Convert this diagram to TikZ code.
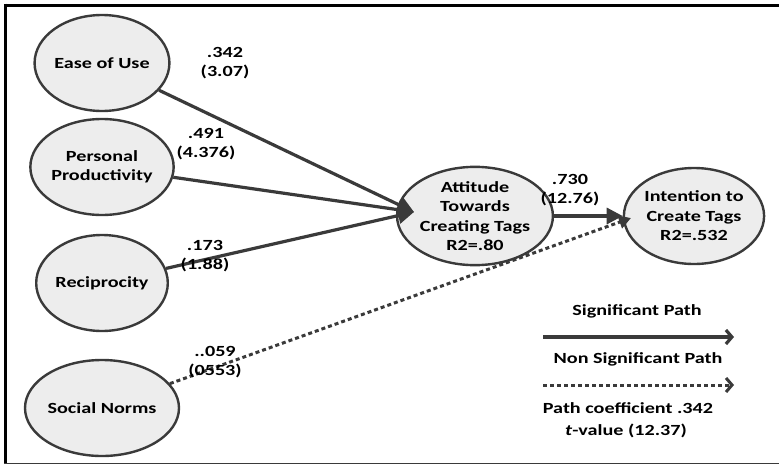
\documentclass[tikz,border=0pt]{standalone}
\usepackage{fontspec}
\setmainfont{Carlito}[FakeStretch=1.3]
\usetikzlibrary{arrows.meta,shapes.geometric}
\definecolor{edgegray}{HTML}{3A3A3A}
\definecolor{fillgray}{HTML}{EDEDED}
\tikzset{
  construct/.style={ellipse, draw=edgegray, line width=2.4pt, fill=fillgray,
    minimum width=125pt, minimum height=96pt, inner sep=0pt, align=center,
    font=\bfseries\fontsize{15.5}{19.5}\selectfont},
  lbl/.style={align=center, font=\bfseries\fontsize{15.5}{19.5}\selectfont, inner sep=0pt},
  sig/.style={draw=edgegray, line width=3.2pt, -{Triangle[length=16pt,width=16pt]}},
  nonsig/.style={draw=edgegray, line width=3pt, dash pattern=on 4pt off 3pt,
    -{Triangle[length=12pt,width=13pt]}},
  legsig/.style={draw=edgegray, line width=3.2pt, -{Straight Barb[length=6pt,width=14pt,line width=3.2pt]}},
  legnon/.style={draw=edgegray, line width=3pt, dash pattern=on 4pt off 3pt,
    -{Straight Barb[length=6pt,width=14pt,line width=3pt]}}
}
\begin{document}
\begin{tikzpicture}[x=1pt, y=-1pt]
  \useasboundingbox (0,0) rectangle (779,466);
  % frame
  \draw[line width=3pt, black] (4,5) -- (779,5);
  \draw[line width=3pt, black] (5.5,3.5) -- (5.5,464);
  \draw[line width=1.8pt, edgegray] (4,463.5) -- (779,463.5);

  % constructs
  \node[construct] (eou) at (102,63) {Ease of Use};
  \node[construct] (pp)  at (102,167) {Personal\\Productivity};
  \node[construct] (rec) at (102,283) {Reciprocity};
  \node[construct] (sn)  at (102,408) {Social Norms};
  \node[construct] (att) at (475,216) {Attitude\\Towards\\Creating Tags\\R2=.80};
  \node[construct] (int) at (694,216) {Intention to\\Create Tags\\R2=.532};

  % paths
  \coordinate (attin) at (414,212);
  \coordinate (intin) at (631,218);
  \draw[sig] (eou) -- (attin);
  \draw[sig] (pp) -- (attin);
  \draw[sig] (rec) -- (attin);
  \draw[sig] (att) -- (int);
  \draw[nonsig] (sn) -- (intin);

  % path coefficients and t-values
  \node[lbl] (l1) at (225,63) {.342\\(3.07)};
  \node[lbl] (l2) at (206,144) {.491\\(4.376)};
  \node[lbl] (l3) at (205,256) {.173\\(1.88)};
  \node[lbl] (l4) at (215,362) {..059\\(0553)};
  \node[lbl] (l5) at (570,190) {.730\\(12.76)};

  % legend
  \node[lbl] (lg1) at (637,311) {Significant Path};
  \coordinate (s1) at (543,337);
  \coordinate (s2) at (734,337);
  \draw[legsig] (s1) -- (s2);
  \node[lbl] (lg2) at (638,359) {Non Significant Path};
  \coordinate (n1) at (543,385);
  \coordinate (n2) at (734,385);
  \draw[legnon] (n1) -- (n2);
  \node[lbl] (lg3) at (628,408) {Path coefficient .342};
  \node[lbl] (lg4) at (626,431) {\textit{t}-value (12.37)};
\end{tikzpicture}
\end{document}
